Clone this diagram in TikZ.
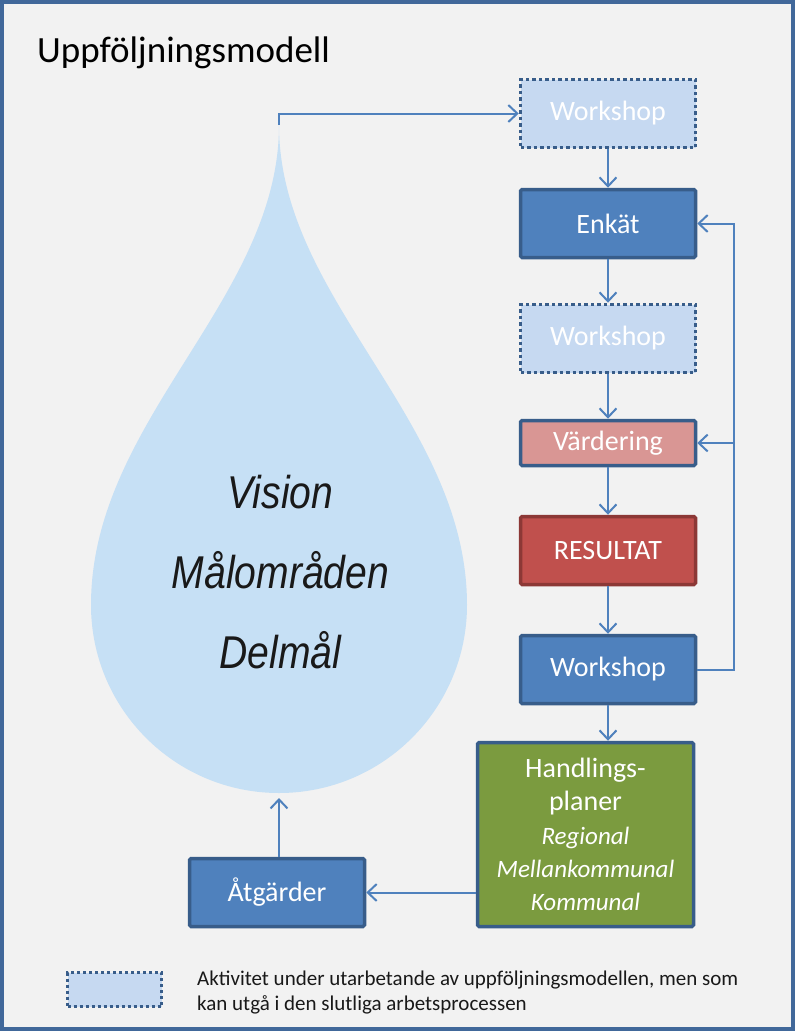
\documentclass[tikz,border=0pt]{standalone}
\usepackage{fontspec}
\setmainfont{Carlito}
\newfontfamily\visionfont[FakeStretch=0.85]{Liberation Sans}
\usetikzlibrary{arrows.meta,calc}
\definecolor{framecol}{HTML}{41689A}
\definecolor{bgcol}{HTML}{F2F2F2}
\definecolor{lineblue}{HTML}{4F81BD}
\definecolor{boxblue}{HTML}{4F81BD}
\definecolor{borderblue}{HTML}{385D8A}
\definecolor{lightblue}{HTML}{C6D9F1}
\definecolor{pinkfill}{HTML}{D99694}
\definecolor{redfill}{HTML}{C0504D}
\definecolor{redborder}{HTML}{8C3836}
\definecolor{greenfill}{HTML}{7B9B3F}
\definecolor{dropblue}{HTML}{C6E0F5}
\begin{document}
\begin{tikzpicture}[x=1pt,y=-1pt,
  conn/.style={draw=lineblue, line width=2pt, -{Straight Barb[length=9pt,width=17pt,line width=2pt]}},
  plainline/.style={draw=lineblue, line width=2pt},
  boxtext/.style={font=\fontsize{28}{34}\selectfont, text=white, inner sep=0pt, align=center},
  darkbox/.style={boxtext, draw=borderblue, fill=boxblue, line width=3.5pt, rounded corners=1.5pt, minimum width=175pt, minimum height=68pt},
  dotbox/.style={boxtext, draw=borderblue, fill=lightblue, line width=3.5pt, dash pattern=on 3.5pt off 3pt, minimum width=175pt, minimum height=68pt},
  droptext/.style={font=\visionfont\itshape\fontsize{46}{46}\selectfont, text=black!90, anchor=base, inner sep=0pt},
  legendtext/.style={font=\fontsize{21}{24}\selectfont, text=black!90, anchor=base west, inner sep=0pt}
]
\useasboundingbox (0,0) rectangle (795,1031);
\fill[framecol] (0,0) rectangle (795,1031);
\fill[bgcol] (4,4) rectangle (791,1027);

% title
\node[font=\fontsize{37}{40}\selectfont, anchor=base west, inner sep=0pt] (title) at (37,62) {Uppföljningsmodell};

% drop
\fill[dropblue] (279,125) .. controls (279,300) and (91,420) .. (91,605)
  arc[start angle=180, end angle=0, radius=188]
  .. controls (467,420) and (279,300) .. cycle;
\node[droptext] (vis) at (280.5,508) {Vision};
\node[droptext] (mal) at (280.5,588) {Målområden};
\node[droptext] (del) at (280.5,668) {Delmål};

% boxes
\node[dotbox] (ws1) at (608,113.5) {\raisebox{-2pt}{Workshop}};
\node[darkbox] (enk) at (608,223.5) {Enkät};
\node[dotbox] (ws2) at (608,338.5) {\raisebox{-2pt}{Workshop}};
\node[darkbox, fill=pinkfill, minimum height=45pt] (vard) at (608,443) {Värdering};
\node[darkbox, fill=redfill, draw=redborder] (res) at (608,550.5) {RESULTAT};
\node[darkbox] (ws3) at (608,669.5) {\raisebox{-2pt}{Workshop}};
\node[darkbox, fill=greenfill, minimum width=216pt, minimum height=184pt] (hp) at (585.5,834.5)
  {Handlings-\\[-1pt]planer\\[0pt]{\itshape\fontsize{25}{30}\selectfont Regional}\\[-1pt]{\itshape\fontsize{25}{30}\selectfont Mellankommunal}\\[-1pt]{\itshape\fontsize{25}{30}\selectfont Kommunal}};
\node[darkbox] (atg) at (277,892.5) {Åtgärder};

% connectors
\coordinate (tipc) at (279,125);
\draw[conn] (tipc) |- (ws1.west);
\draw[conn] (ws1.south) -- (enk.north);
\draw[conn] (enk.south) -- (ws2.north);
\draw[conn] (ws2.south) -- (vard.north);
\draw[conn] (vard.south) -- (res.north);
\draw[conn] (res.south) -- (ws3.north);
\draw[conn] (ws3.south) -- (ws3.south |- hp.north);
\coordinate (lp) at ($(ws3.east)+(37,0)$);
\draw[conn] (ws3.east) -- (lp) |- (enk.east);
\draw[conn] (lp |- vard.east) -- (vard.east);
\draw[conn] (hp.west |- atg.east) -- (atg.east);
\coordinate (dropb) at (279,798);
\draw[conn] (atg.north -| dropb) -- (dropb);

% legend
\node[dotbox, minimum width=94pt, minimum height=34pt, line width=3pt, dash pattern=on 3pt off 3pt] (leg) at (114.5,989.5) {};
\node[legendtext] (legt1) at (197,985.5) {Aktivitet under utarbetande av uppföljningsmodellen, men som};
\node[legendtext] (legt2) at (197,1010) {kan utgå i den slutliga arbetsprocessen};
\end{tikzpicture}
\end{document}
